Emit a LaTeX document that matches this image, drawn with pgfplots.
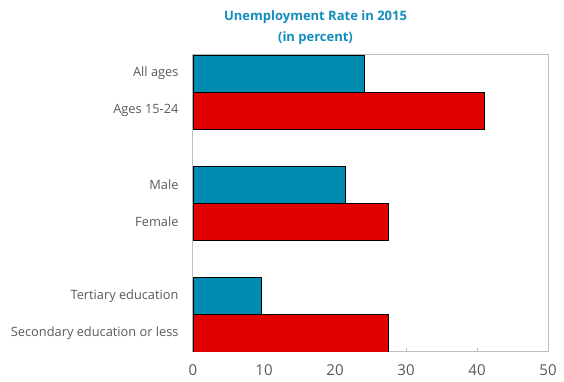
\documentclass[border=0pt]{standalone}
\usepackage{fontspec}
\setmainfont{Open Sans}
\usepackage{pgfplots}
\pgfplotsset{compat=1.18}
\definecolor{tealbar}{RGB}{0,139,176}
\definecolor{redbar}{RGB}{224,0,0}
\definecolor{titleblue}{RGB}{20,140,190}
\definecolor{labgray}{RGB}{89,89,89}
\definecolor{framegray}{RGB}{191,191,191}
\begin{document}
\begin{tikzpicture}
\begin{axis}[
    xbar,
    scale only axis,
    width=355pt,
    height=297pt,
    xmin=0, xmax=50,
    ymin=0, ymax=8,
    bar width=1,
    bar shift=0pt,
    xtick={0,10,20,30,40,50},
    ytick={0.5,1.5,3.5,4.5,6.5,7.5},
    yticklabels={Secondary education or less, Tertiary education, Female, Male, Ages 15-24, All ages},
    axis line style={framegray, line width=1pt},
    x tick style={framegray, line width=0.8pt},
    xtick pos=bottom,
    major tick length=4pt,
    xtick align=inside,
    y tick style={draw=none},
    xticklabel style={font=\fontsize{15}{17}\selectfont, text=labgray, yshift=-9pt},
    yticklabel style={font=\fontsize{12.8}{15}\selectfont, text=labgray, xshift=-7pt},
    /pgf/number format/assume math mode=true,
    title={\textbf{Unemployment Rate in 2015}\\\textbf{(in percent)}},
    title style={font=\fontsize{13}{21}\selectfont, text=titleblue, align=center, at={(0.5,1)}, anchor=south, xshift=-55pt, yshift=1pt},
]
\addplot[fill=tealbar, draw=black, line width=0.8pt] coordinates {(24.1,7.5) (21.4,4.5) (9.7,1.5)};
\addplot[fill=redbar, draw=black, line width=0.8pt] coordinates {(41.1,6.5) (27.5,3.5) (27.5,0.5)};
\end{axis}
\pgfresetboundingbox
\path (-193pt,-30pt) rectangle (371pt,352pt);
\end{tikzpicture}
\end{document}
